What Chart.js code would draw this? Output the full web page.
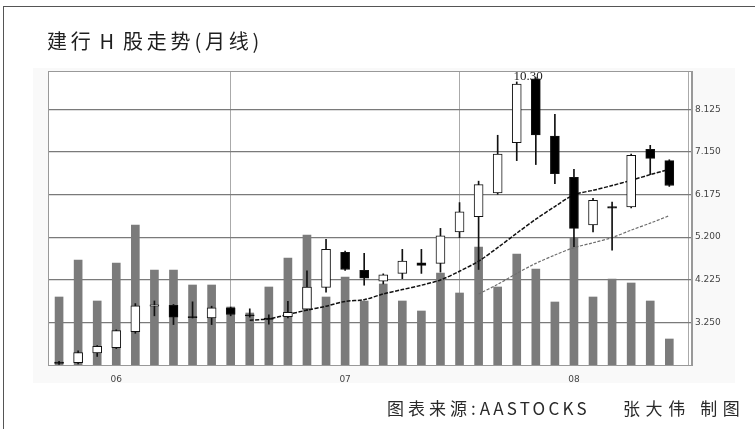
<!DOCTYPE html>
<html>
<head>
<meta charset="utf-8">
<script src="https://cdn.jsdelivr.net/npm/chart.js@4.4.1/dist/chart.umd.min.js"></script>
<style>
  body { margin: 0; background: #fff; }
  #wrap { position: relative; width: 755px; height: 429px; overflow: hidden; }
  #frame { position: absolute; left: 3px; top: 6px; right: 0; bottom: 0;
           border-top: 1px solid #555; border-left: 1px solid #555; }
  #panel { position: absolute; left: 33px; top: 68px; width: 702px; height: 315px; background: #f9f9f9; }
  #box { position: absolute; left: 0; top: 0; width: 755px; height: 429px; }
  .txt { position: absolute; font-family: "Noto Sans CJK SC", "Noto Sans", sans-serif; color: #2a2a2a; white-space: nowrap; }
  #title { left: 47px; top: 29px; font-size: 20px; line-height: 24px; letter-spacing: 3.8px; color: #1e1e1e; }
  #title .h { margin: 0 5px 0 5px; }
  #src { left: 387px; top: 398px; font-size: 17px; line-height: 20px; letter-spacing: 4px; }
  #src .en { letter-spacing: 3.2px; }
  #author { left: 623px; top: 398px; font-size: 17px; line-height: 20px; letter-spacing: 5.6px; }
</style>
</head>
<body>
<div id="wrap">
  <div id="frame"></div>
  <div id="panel"></div>
  <div id="box"><canvas id="chart"></canvas></div>
  <div class="txt" id="title">建行<span class="h">H</span>股走势(月线)</div>
  <div class="txt" id="src">图表来源:<span class="en">AASTOCKS</span></div>
  <div class="txt" id="author">张大伟 制图</div>
</div>
<script>
// monthly bars, Oct 2005 - Jun 2008
const months = [
  "2005-10", "2005-11", "2005-12",
  "2006-01", "2006-02", "2006-03", "2006-04", "2006-05", "2006-06",
  "2006-07", "2006-08", "2006-09", "2006-10", "2006-11", "2006-12",
  "2007-01", "2007-02", "2007-03", "2007-04", "2007-05", "2007-06",
  "2007-07", "2007-08", "2007-09", "2007-10", "2007-11", "2007-12",
  "2008-01", "2008-02", "2008-03", "2008-04", "2008-05", "2008-06"
];
const openP = [2.34, 2.33, 2.55, 2.67, 3.04, 3.62, 3.64, 3.38, 3.35, 3.58, 3.42,
  3.35, 3.38, 3.55, 4.05, 4.85, 4.44, 4.19, 4.37, 4.61, 4.60, 5.32, 5.67, 6.21,
  7.36, 8.82, 7.51, 6.57, 5.48, 5.90, 5.89, 7.21, 6.95];
const highP = [2.36, 2.60, 2.72, 3.08, 3.68, 3.74, 3.66, 3.72, 3.62, 3.60, 3.56,
  3.42, 3.73, 4.43, 5.15, 4.88, 4.83, 4.36, 4.92, 4.92, 5.40, 5.99, 6.48, 7.53,
  8.75, 8.85, 8.01, 6.75, 6.09, 6.00, 7.10, 7.30, 6.97];
const lowP = [2.29, 2.30, 2.47, 2.65, 3.00, 3.40, 3.20, 3.35, 3.20, 3.40, 3.37,
  3.21, 3.35, 3.52, 3.94, 4.44, 4.10, 4.13, 4.25, 4.37, 4.40, 5.19, 4.46, 6.18,
  6.95, 6.86, 6.42, 4.98, 5.32, 4.90, 5.87, 6.63, 6.36];
const closeP = [2.31, 2.56, 2.70, 3.06, 3.63, 3.65, 3.37, 3.36, 3.58, 3.43, 3.40,
  3.32, 3.48, 4.06, 4.92, 4.46, 4.26, 4.34, 4.65, 4.55, 5.23, 5.78, 6.40, 7.10,
  8.70, 7.54, 6.65, 5.40, 6.04, 5.86, 7.07, 7.00, 6.38];
const volume = [68, 105, 64, 102, 140, 95, 95, 80, 80, 58, 52, 78, 107, 130, 68,
  88, 64, 81, 64, 54, 92, 72, 118, 78, 111, 96, 63, 127, 68, 86, 82, 64, 26];
const maShort = [null, null, null, null, null, null, null, null, null, null,
  3.30, 3.33, 3.43, 3.53, 3.62, 3.73, 3.77, 3.90, 4.00, 4.10, 4.22, 4.42, 4.65,
  4.96, 5.29, 5.61, 5.90, 6.17, 6.27, 6.38, 6.50, 6.63, 6.75];
const maLong = [null, null, null, null, null, null, null, null, null, null,
  null, null, null, null, null, null, null, null, null, null, null, null, 3.90,
  4.12, 4.37, 4.60, 4.79, 4.96, 5.07, 5.19, 5.36, 5.52, 5.69];
const priceTicks = [3.25, 4.225, 5.2, 6.175, 7.15, 8.125];
const highLabel = "10.30";

const pts = (arr) => arr.map((v, i) => ({ x: i, y: v })).filter((p) => p.y !== null);
const isUp = (i) => closeP[i] >= openP[i];

const framePlugin = {
  id: "frame",
  beforeDraw(chart) {
    const { ctx, chartArea: a } = chart;
    ctx.save();
    ctx.fillStyle = "#fff";
    ctx.fillRect(a.left, a.top, a.right - a.left, a.bottom - a.top);
    ctx.restore();
  },
  afterDraw(chart) {
    const { ctx, chartArea: a, scales } = chart;
    ctx.save();
    ctx.strokeStyle = "#999";
    ctx.lineWidth = 1;
    ctx.strokeRect(a.left + 0.5, a.top + 0.5, a.right - a.left - 1, a.bottom - a.top);
    // date of the peak
    const top = highP.indexOf(Math.max(...highP));
    ctx.fillStyle = "#222";
    ctx.font = "13px 'Liberation Serif', serif";
    ctx.textAlign = "center";
    ctx.textBaseline = "alphabetic";
    ctx.fillText(highLabel, scales.x.getPixelForValue(top - 0.4),
      scales.y.getPixelForValue(highP[top]) + 2);
    ctx.restore();
  },
};

new Chart(document.getElementById("chart"), {
  type: "bar",
  data: {
    datasets: [
      {
        label: "volume",
        data: pts(volume),
        yAxisID: "yv",
        backgroundColor: "#7b7b7b",
        barThickness: 8,
        grouped: false,
        order: 5,
      },
      {
        type: "line",
        label: "MA short",
        data: pts(maShort),
        yAxisID: "y",
        borderColor: "#111",
        borderWidth: 1.5,
        borderDash: [4, 1.5],
        pointRadius: 0,
        tension: 0.3,
        order: 4,
      },
      {
        type: "line",
        label: "MA long",
        data: pts(maLong),
        yAxisID: "y",
        borderColor: "#6e6e6e",
        borderWidth: 1.2,
        borderDash: [3, 1.5],
        pointRadius: 0,
        tension: 0.3,
        order: 3,
      },
      {
        label: "wick",
        data: lowP.map((l, i) => ({ x: i, y: [l, highP[i]] })),
        yAxisID: "y",
        backgroundColor: "#111",
        barThickness: 1,
        grouped: false,
        order: 2,
      },
      {
        label: "body",
        data: openP.map((o, i) => ({ x: i, y: [o, closeP[i]] })),
        yAxisID: "y",
        backgroundColor: (c) => (isUp(c.dataIndex) ? "#fff" : "#000"),
        borderColor: "#111",
        borderWidth: 1,
        borderSkipped: false,
        barThickness: 9,
        grouped: false,
        order: 1,
      },
    ],
  },
  options: {
    responsive: true,
    maintainAspectRatio: false,
    animation: false,
    layout: { padding: { left: 48, top: 71, right: 23, bottom: 44 } },
    plugins: { legend: { display: false }, tooltip: { enabled: false } },
    scales: {
      x: {
        type: "linear",
        min: -0.58,
        max: 33.19,
        offset: false,
        afterBuildTicks: (s) => {
          s.ticks = months
            .map((m, i) => ({ value: i, m }))
            .filter((t) => t.m.endsWith("-01"))
            .map((t) => ({ value: t.value }));
        },
        afterFit: (s) => { s.height = 20; },
        ticks: {
          callback: (v) => months[v].slice(2, 4),
          color: "#444",
          font: { family: "DejaVu Sans", size: 9 },
          padding: 9,
          maxRotation: 0,
        },
        grid: { color: "#aaa", drawTicks: false },
        border: { color: "#999" },
      },
      y: {
        position: "right",
        min: 2.275,
        max: 9.0,
        afterBuildTicks: (s) => { s.ticks = priceTicks.map((v) => ({ value: v })); },
        afterFit: (s) => { s.width = 40; },
        ticks: {
          callback: (v) => v.toFixed(3),
          color: "#444",
          font: { family: "DejaVu Sans", size: 9 },
          padding: 3,
        },
        grid: { color: "#7a7a7a", lineWidth: 1.2, drawTicks: false },
        border: { color: "#999" },
      },
      yv: {
        display: false,
        position: "left",
        min: 0,
        max: 294,
      },
    },
  },
  plugins: [framePlugin],
});
</script>
</body>
</html>
